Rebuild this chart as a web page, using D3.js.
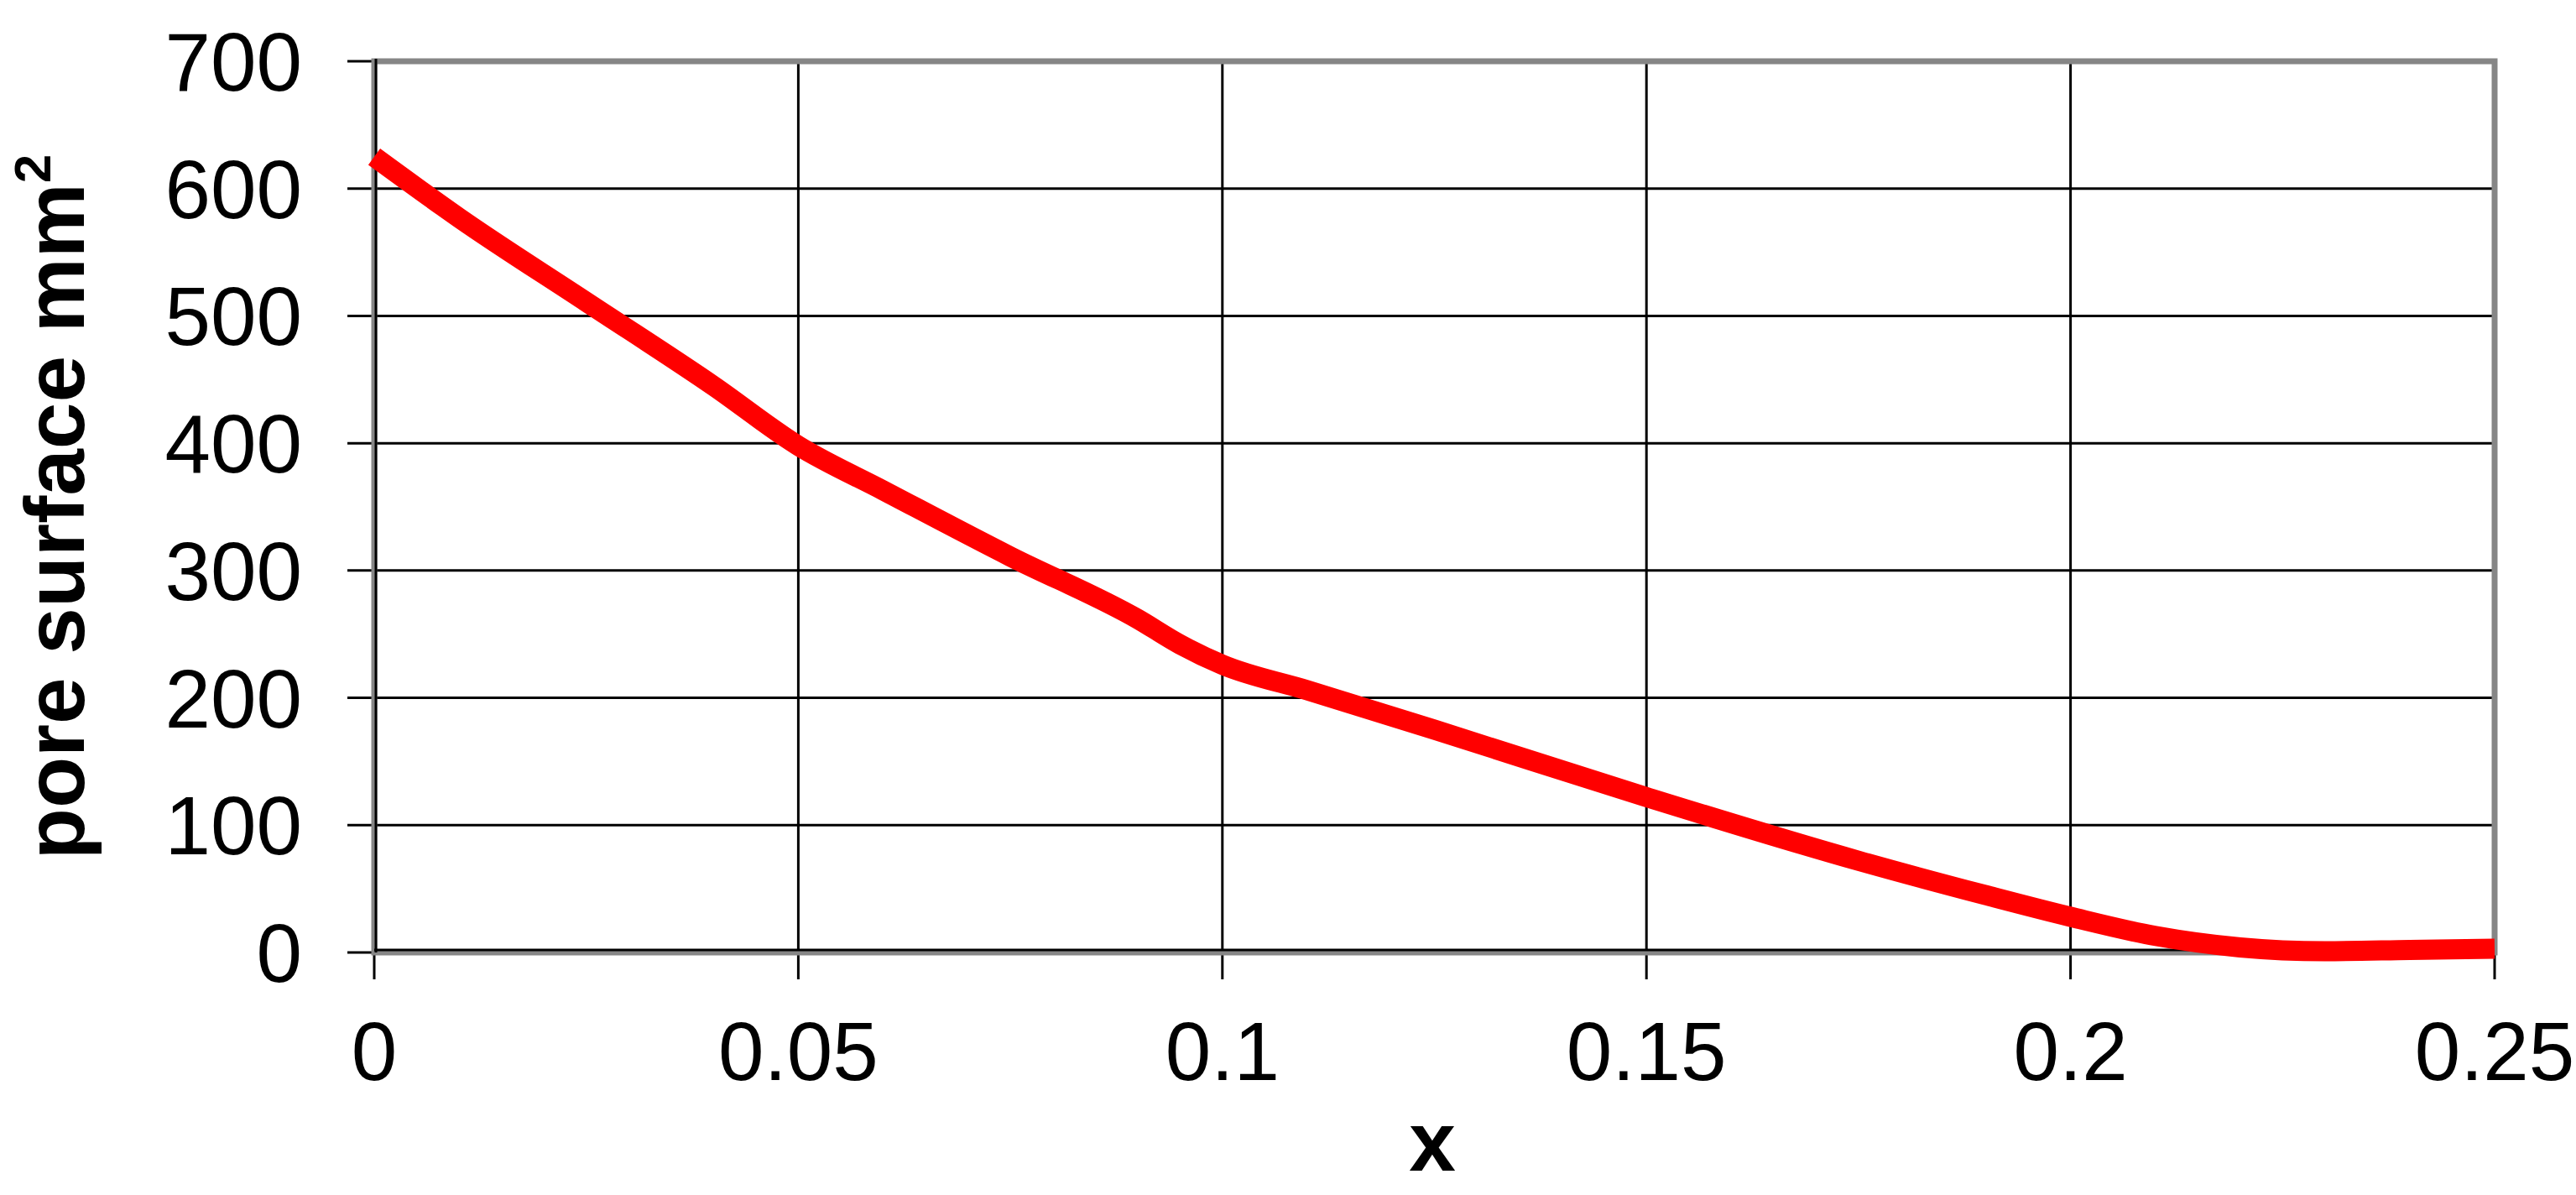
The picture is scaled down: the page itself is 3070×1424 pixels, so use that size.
<!DOCTYPE html>
<html><head><meta charset="utf-8">
<script src="https://cdn.jsdelivr.net/npm/d3@7"></script>
<style>body{margin:0;background:#fff}svg text{font-family:"Liberation Sans",Arial,sans-serif}</style>
</head><body><svg id="chart" width="3070" height="1424"></svg>
<script>
// values
var xVals = [0, 0.01, 0.025, 0.04, 0.05, 0.06, 0.075, 0.09, 0.095, 0.1, 0.11, 0.125, 0.15, 0.175, 0.19, 0.2, 0.21, 0.22, 0.23, 0.24, 0.25];
var yVals = [625, 577, 511, 445, 398, 363, 311, 262, 242, 226, 206, 175, 122, 72, 45, 28, 13, 4, 1, 2, 3];
var xTicks = [0, 0.05, 0.1, 0.15, 0.2, 0.25];
var yTicks = [0, 100, 200, 300, 400, 500, 600, 700];

var m = {left: 446, right: 2973, top: 73, bottom: 1135};
var svg = d3.select("#chart");
var x = d3.scaleLinear().domain([0, 0.25]).range([m.left, m.right]);
var y = d3.scaleLinear().domain([0, 700]).range([m.bottom, m.top]);

// grid
svg.selectAll(".gy").data(yTicks).enter().append("line")
	.attr("x1", m.left - 32).attr("x2", m.right)
	.attr("y1", function(d){return y(d)}).attr("y2", function(d){return y(d)})
	.attr("stroke", "#000").attr("stroke-width", 3);
svg.selectAll(".gx").data(xTicks).enter().append("line")
	.attr("x1", function(d){return x(d)}).attr("x2", function(d){return x(d)})
	.attr("y1", m.top).attr("y2", m.bottom + 32)
	.attr("stroke", "#000").attr("stroke-width", 3);

// frame
svg.append("rect").attr("x", m.left).attr("y", m.top)
	.attr("width", m.right - m.left).attr("height", m.bottom - m.top)
	.attr("fill", "none").attr("stroke", "#868686").attr("stroke-width", 7);
svg.append("line").attr("x1", m.left + 2).attr("x2", m.left + 2)
	.attr("y1", m.top - 3).attr("y2", m.bottom).attr("stroke", "#000").attr("stroke-width", 3);
svg.append("line").attr("x1", m.left).attr("x2", m.right)
	.attr("y1", m.bottom - 3).attr("y2", m.bottom - 3).attr("stroke", "#000").attr("stroke-width", 3);

// line
var line = d3.line().x(function(d){return x(d[0])}).y(function(d){return y(d[1])}).curve(d3.curveMonotoneX);
svg.append("path").datum(d3.zip(xVals, yVals)).attr("d", line)
	.attr("fill", "none").attr("stroke", "#ff0000").attr("stroke-width", 24);

// tick labels
svg.selectAll(".ly").data(yTicks).enter().append("text")
	.attr("x", 360).attr("y", function(d){return y(d) + 35})
	.attr("text-anchor", "end").attr("font-size", 98).text(function(d){return d});
svg.selectAll(".lx").data(xTicks).enter().append("text")
	.attr("x", function(d){return x(d)}).attr("y", 1287)
	.attr("text-anchor", "middle").attr("font-size", 98).text(function(d){return d});

// titles
svg.append("text").attr("x", 1707).attr("y", 1395).attr("text-anchor", "middle")
	.attr("font-size", 100).attr("font-weight", "bold").text("x");
var yt = svg.append("text").attr("transform", "translate(100," + ((m.top + m.bottom) / 2) + ") rotate(-90)")
	.attr("text-anchor", "middle").attr("font-size", 100).attr("font-weight", "bold");
yt.append("tspan").text("pore surface mm");
yt.append("tspan").attr("font-size", 62).attr("dy", -40).text("2");
</script></body></html>
